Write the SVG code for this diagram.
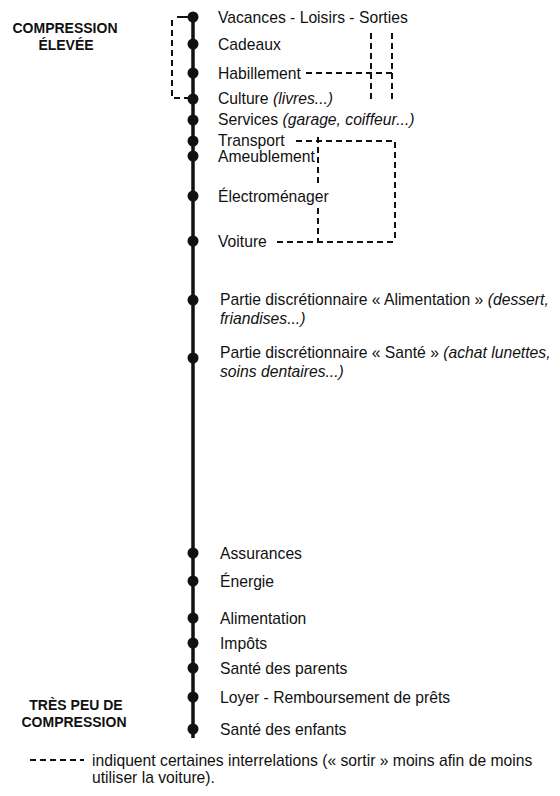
<svg xmlns="http://www.w3.org/2000/svg" width="560" height="796" viewBox="0 0 560 796">
<style>
text{font-family:"Liberation Sans",Arial,sans-serif;font-size:15.7px;fill:#111}
.b{font-weight:bold;font-size:14px;text-anchor:middle}
.i{font-style:italic}
.dot{fill:#111}
.dash{fill:none;stroke:#111;stroke-width:2;stroke-dasharray:6 4}
</style>
<rect width="560" height="796" fill="#fff"/>
<g id="labels-left">
<text class="b" x="65" y="33">COMPRESSION</text>
<text class="b" x="66" y="50">ÉLEVÉE</text>
<text class="b" x="76" y="710">TRÈS PEU DE</text>
<text class="b" x="74" y="727">COMPRESSION</text>
</g>
<g id="axis">
<line x1="193" y1="15" x2="193" y2="738" stroke="#111" stroke-width="3.5"/>
</g>
<g id="connectors">
<path d="M193,17 H177" stroke="#111" stroke-width="2" fill="none"/>
<path class="dash" d="M172,20 V98 H190"/>
<path class="dash" d="M306,73 H392"/>
<path class="dash" d="M371,33 V102"/>
<path class="dash" d="M392,33 V100"/>
<path class="dash" d="M296,141 H395 V242"/>
<path class="dash" d="M318,137 V186"/>
<path class="dash" d="M318,208 V242"/>
<path class="dash" d="M277,242 H395"/>
</g>
<g id="n-vacances"><circle class="dot" cx="193" cy="17" r="5.5"/><text x="218" y="22.5">Vacances - Loisirs - Sorties</text></g>
<g id="n-cadeaux"><circle class="dot" cx="193" cy="44" r="5.5"/><text x="218" y="49.5">Cadeaux</text></g>
<g id="n-habillement"><circle class="dot" cx="193" cy="73" r="5.5"/><text x="218" y="78.5">Habillement</text></g>
<g id="n-culture"><circle class="dot" cx="193" cy="99" r="5.5"/><text x="218" y="103.5">Culture <tspan class="i">(livres...)</tspan></text></g>
<g id="n-services"><circle class="dot" cx="193" cy="120" r="5.5"/><text x="218" y="125">Services <tspan class="i">(garage, coiffeur...)</tspan></text></g>
<g id="n-transport"><circle class="dot" cx="193" cy="141" r="5.5"/><text x="218" y="145.5">Transport</text></g>
<g id="n-ameublement"><circle class="dot" cx="193" cy="156" r="5.5"/><text x="218" y="161.5">Ameublement</text></g>
<g id="n-electromenager"><circle class="dot" cx="193" cy="196" r="5.5"/><text x="218" y="201.5">Électroménager</text></g>
<g id="n-voiture"><circle class="dot" cx="193" cy="241" r="5.5"/><text x="218" y="246.5">Voiture</text></g>
<g id="n-alim-disc"><circle class="dot" cx="193" cy="300" r="5.5"/>
<text x="220" y="304.5">Partie discrétionnaire « Alimentation » <tspan class="i">(dessert,</tspan></text>
<text class="i" x="220" y="323.5">friandises...)</text></g>
<g id="n-sante-disc"><circle class="dot" cx="193" cy="358" r="5.5"/>
<text x="220" y="357.5">Partie discrétionnaire « Santé » <tspan class="i">(achat lunettes,</tspan></text>
<text class="i" x="220" y="376.5">soins dentaires...)</text></g>
<g id="n-assurances"><circle class="dot" cx="193" cy="553" r="5.5"/><text x="220" y="558.5">Assurances</text></g>
<g id="n-energie"><circle class="dot" cx="193" cy="581" r="5.5"/><text x="220" y="586.5">Énergie</text></g>
<g id="n-alimentation"><circle class="dot" cx="193" cy="618" r="5.5"/><text x="220" y="623.5">Alimentation</text></g>
<g id="n-impots"><circle class="dot" cx="193" cy="643" r="5.5"/><text x="220" y="648.5">Impôts</text></g>
<g id="n-sante-parents"><circle class="dot" cx="193" cy="668" r="5.5"/><text x="220" y="673.5">Santé des parents</text></g>
<g id="n-loyer"><circle class="dot" cx="193" cy="697" r="5.5"/><text x="220" y="702.5">Loyer - Remboursement de prêts</text></g>
<g id="n-sante-enfants"><circle class="dot" cx="193" cy="729" r="5.5"/><text x="220" y="734.5">Santé des enfants</text></g>
<g id="legend">
<path class="dash" d="M30,760 H84" stroke-dasharray="6 3"/>
<text x="92" y="765.5">indiquent certaines interrelations (« sortir » moins afin de moins</text>
<text x="92" y="782.5">utiliser la voiture).</text>
</g>
</svg>
